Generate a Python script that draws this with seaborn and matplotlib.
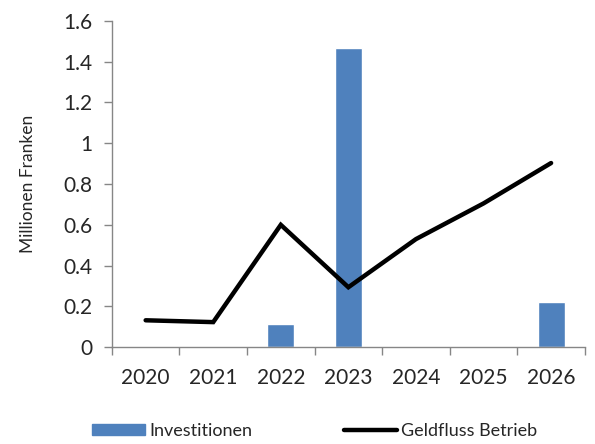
import numpy as np
import pandas as pd
import seaborn as sns
import matplotlib.pyplot as plt
from matplotlib.patches import Patch
from matplotlib.lines import Line2D

years = ["2020", "2021", "2022", "2023", "2024", "2025", "2026"]
investitionen = [0.0, 0.0, 0.113, 1.467, 0.0, 0.0, 0.22]
geldfluss = [0.132, 0.123, 0.60, 0.294, 0.53, 0.705, 0.903]

sns.set_style("white")
plt.rcParams["font.family"] = ["Lato", "DejaVu Sans"]

df = pd.DataFrame({"Jahr": years, "Investitionen": investitionen, "Geldfluss": geldfluss})
df["pos"] = np.arange(len(df))

fig = plt.figure(figsize=(5.95, 4.44), dpi=100)
ax = fig.add_axes([0.188, 0.218, 0.795, 0.735])

bar_color = "#4F81BD"
sns.barplot(data=df, x="Jahr", y="Investitionen", color=bar_color, width=0.4,
            saturation=1, ax=ax)
sns.lineplot(data=df, x="pos", y="Geldfluss", color="black", linewidth=3.2,
             solid_capstyle="round", solid_joinstyle="miter", ax=ax)

ax.set_xlim(-0.5, len(years) - 0.5)
ax.set_ylim(0, 1.6)
ax.set_yticks(np.arange(0, 1.61, 0.2))
ax.set_yticklabels(["0", "0.2", "0.4", "0.6", "0.8", "1", "1.2", "1.4", "1.6"])
ax.set_xticks(range(len(years)))
ax.set_xticklabels(years)
ax.set_xticks(np.arange(-0.5, len(years), 1), minor=True)
ax.tick_params(axis="x", which="major", length=0, pad=15, labelsize=15)
ax.tick_params(axis="x", which="minor", length=6, color="#868686", width=1, direction="out")
ax.tick_params(axis="y", length=6, color="#868686", width=1, direction="out",
               labelsize=15, pad=8)
ax.tick_params(bottom=True, left=True, which="both")

sns.despine(ax=ax)
for s in ["left", "bottom"]:
    ax.spines[s].set_color("#868686")
    ax.spines[s].set_linewidth(1)

ax.set_xlabel("")
ax.set_ylabel("Millionen Franken", fontsize=12.5, labelpad=20)

handles = [
    Patch(facecolor=bar_color, edgecolor=bar_color),
    Line2D([0], [0], color="black", linewidth=3.2, solid_capstyle="round"),
]
fig.legend(handles, ["Investitionen", "Geldfluss Betrieb"], loc="lower center",
           bbox_to_anchor=(0.529, -0.025), ncol=2, frameon=False, fontsize=13,
           handlelength=2.9, handleheight=0.55, handletextpad=0.25, columnspacing=5.1)

fig.savefig("out.png", dpi=100)
